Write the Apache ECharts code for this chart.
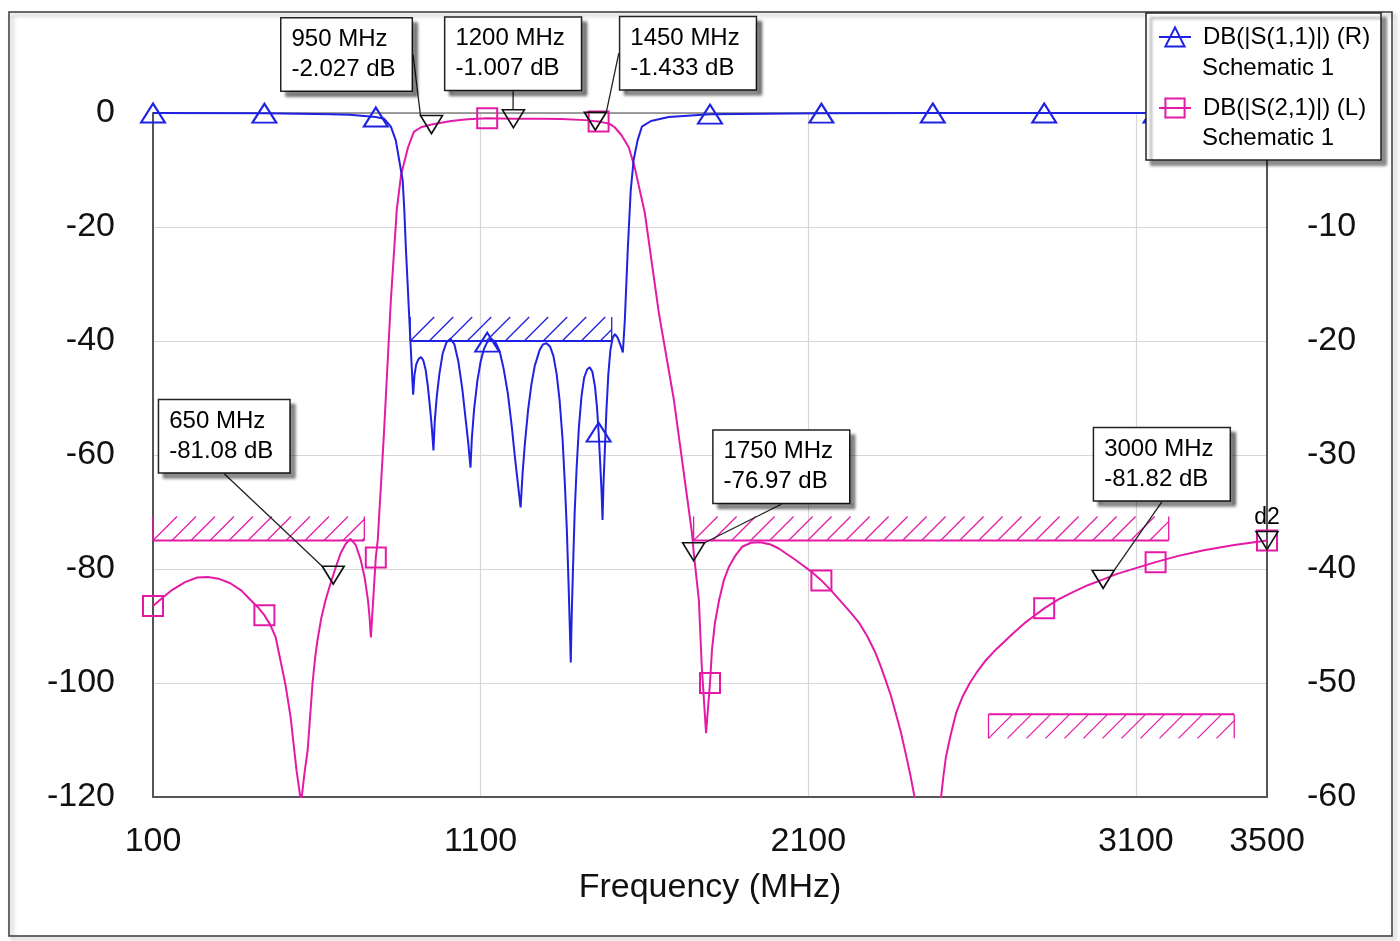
<!DOCTYPE html>
<html><head><meta charset="utf-8">
<script src="https://cdn.jsdelivr.net/npm/echarts@6/dist/echarts.min.js"></script>
<style>html,body{margin:0;padding:0;background:#fff}#c{width:1400px;height:941px}</style>
</head><body><div id="c"></div>
<script>
const FONT = '"Liberation Sans", Arial, Helvetica, sans-serif';
const BLUE = '#1f22e0', PINK = '#e41aa6', INK = '#111';

// ---- data (MHz, dB) ----
const xRange = [100, 3500], xStep = 1000;
const leftRange = [-120, 0], leftStep = 20;
const rightRange = [-60, 0], rightStep = 10;

const s11Name = 'DB(|S(1,1)|) (R)';
const s21Name = 'DB(|S(2,1)|) (L)';
const legendSub = 'Schematic 1';

// S21, left axis
const s21Points = [
  [100,-86.5],[130,-85.0],[160,-83.6],[198,-82.3],[235,-81.5],[268,-81.4],[300,-81.7],[336,-82.5],
  [370,-83.8],[397,-85.4],[420,-86.7],[440,-88.1],[458,-89.8],[474,-91.9],[489,-96.0],[505,-100.5],
  [520,-106],[538,-115.3],[552,-121],[562,-116],[572,-111.8],[580,-105.5],[587,-100],[595,-95.5],
  [602,-92.5],[614,-88.5],[627,-85.4],[642,-82.5],[650,-81.08],[662,-79],[673,-77.2],[688,-75.6],
  [703,-74.7],[719,-75.8],[734,-78.4],[746,-81.5],[756,-85.4],[761,-88.5],[765,-92],[780,-78],
  [786,-74.9],[805,-56.1],[826,-32.8],[844,-17],[857,-10.9],[878,-6.1],[896,-3.3],[918,-2.5],
  [950,-2.027],[1010,-1.4],[1060,-1.1],[1120,-0.9],[1200,-1.007],[1280,-1.0],[1347,-1.05],[1420,-1.25],
  [1450,-1.433],[1460,-1.5],[1469,-1.6],[1494,-1.9],[1509,-2.5],[1530,-3.9],[1552,-6],[1570,-9.5],
  [1601,-17.5],[1644,-35.1],[1690,-50.4],[1745,-73.7],[1750,-76.97],[1766,-85.4],[1775,-97.2],[1788,-108.8],
  [1800,-100],[1806,-94.2],[1815,-89.5],[1828,-85.4],[1842,-82],[1858,-79.6],[1878,-77.6],[1898,-76.1],
  [1925,-75.4],[1953,-75.3],[1985,-75.7],[2010,-76.4],[2030,-77.2],[2056,-78.2],[2082,-79.3],[2110,-80.5],
  [2140,-82],[2170,-83.8],[2204,-86.0],[2230,-87.7],[2256,-89.5],[2280,-91.8],[2305,-94.7],[2320,-96.9],
  [2336,-99.5],[2352,-102.2],[2367,-105.3],[2382,-108.5],[2397,-112.3],[2411,-116],[2425,-120.2],[2445,-128],
  [2465,-140],[2485,-128],[2505,-120.2],[2512,-116.5],[2520,-113],[2535,-109],[2551,-105.3],[2570,-102.5],
  [2593,-100],[2617,-97.9],[2642,-96],[2668,-94.4],[2694,-93],[2727,-91.2],[2760,-89.5],[2790,-88.2],
  [2820,-86.9],[2865,-85.3],[2909,-84],[2955,-82.8],[3000,-81.82],[3040,-80.9],[3080,-80.2],[3120,-79.5],
  [3160,-78.8],[3230,-77.7],[3307,-76.7],[3400,-75.8],[3500,-75.0]
];
// S11, right axis
const s11Points = [
  [100,0],[440,-0.02],[642,-0.1],[700,-0.15],[780,-0.35],[805,-0.5],[826,-1.2],[841,-2.4],[850,-3.9],
  [862,-5.9],[867,-8.5],[872,-12],[877,-14.9],[882,-17.9],[887,-20.8],[894,-24.7],[898,-23.0],[903,-22.1],
  [910,-21.6],[918,-21.4],[925,-21.7],[932,-22.5],[939,-24.0],[946,-26.0],[951,-27.6],[956,-29.6],
  [960,-27.0],[966,-24.9],[974,-22.9],[984,-21.1],[996,-20.1],[1008,-19.8],[1020,-20.3],[1032,-21.8],
  [1044,-24.2],[1054,-26.8],[1062,-28.9],[1069,-31.1],[1073,-28.6],[1080,-26.0],[1090,-23.5],[1100,-21.8],
  [1110,-20.7],[1120,-20.1],[1132,-19.8],[1145,-20.1],[1158,-20.9],[1170,-22.4],[1183,-24.6],[1195,-27.5],
  [1205,-30.3],[1214,-32.6],[1222,-34.6],[1228,-31.6],[1235,-29.0],[1245,-26.0],[1255,-23.8],[1265,-22.2],
  [1280,-20.8],[1290,-20.3],[1301,-20.2],[1312,-20.5],[1322,-21.3],[1332,-22.9],[1341,-25.2],[1350,-28.6],
  [1357,-32.5],[1363,-36.5],[1368,-41],[1372,-45],[1375,-48.2],[1378,-44],[1382,-39.8],[1387,-35],
  [1393,-31.1],[1400,-27.5],[1408,-24.8],[1416,-23.2],[1425,-22.5],[1433,-22.3],[1441,-22.7],[1449,-24.0],
  [1455,-25.8],[1460,-28],[1465,-30.8],[1469,-33.2],[1472,-35.7],[1475,-32.5],[1479,-29.6],[1484,-26],
  [1490,-22.8],[1496,-20.8],[1503,-19.7],[1510,-19.4],[1518,-19.7],[1526,-20.3],[1534,-21.0],[1540,-18.2],
  [1549,-12],[1558,-6.8],[1567,-4.1],[1579,-2.4],[1592,-1.2],[1620,-0.7],[1674,-0.35],[1800,-0.1],
  [2140,-0.02],[2480,0],[2820,0],[3160,0],[3500,0]
];
const s21Marks = [100,440,780,1120,1460,1800,2140,2820,3160,3500];
const s11Marks = [100,440,780,1120,1460,1800,2140,2480,2820,3160,3500];

// marker readouts (S21)
const readouts = [[650,-81.08],[950,-2.027],[1200,-1.007],[1450,-1.433],[1750,-76.97],[3000,-81.82]];
const d2Point = [[3500,-75.0]];

// masks: [fStart, fEnd, level dB, side(1 = hatch above, -1 = hatch below)]
const s21Masks = [[100,745,-75,1],[1750,3200,-75,1],[2650,3400,-105.5,-1]];
const s11Masks = [[885,1500,-20,1]];

// ---- layout/style (pixels) ----
const readoutOffsets = [[-174,-139],[-150,-70],[-68,-65],[25,-68],[20,-85],[-9,-115]];

function withMarks(points, marks) {
  return points.map(p => marks.indexOf(p[0]) >= 0 ? {value: p} : {value: p, symbol: 'none'});
}

function maskRender(params, api) {
  const f0 = api.value(0), f1 = api.value(1), lv = api.value(2), side = api.value(3);
  const a = api.coord([f0, lv]), b = api.coord([f1, lv]);
  const H = 24, STEP = 19;
  const yBase = a[1], yFar = yBase - side * H;
  const yLow = Math.max(yBase, yFar), yHigh = Math.min(yBase, yFar);
  const color = api.visual('color');
  const thin = {stroke: color, lineWidth: 1.3, fill: null};
  const kids = [
    {type: 'line', shape: {x1: a[0], y1: yBase, x2: b[0], y2: yBase}, style: {stroke: color, lineWidth: 2}},
    {type: 'line', shape: {x1: a[0], y1: yBase, x2: a[0], y2: yFar}, style: thin},
    {type: 'line', shape: {x1: b[0], y1: yBase, x2: b[0], y2: yFar}, style: thin}
  ];
  for (let x = a[0]; x < b[0] - 1; x += STEP) {
    let x2 = x + H, y2 = yHigh;
    if (x2 > b[0]) { x2 = b[0]; y2 = yLow - (b[0] - x); }
    kids.push({type: 'line', shape: {x1: x, y1: yLow, x2: x2, y2: y2}, style: thin});
  }
  return {type: 'group', children: kids};
}

const chart = echarts.init(document.getElementById('c'), null, {renderer: 'canvas'});
const axisLabelStyle = {fontFamily: FONT, fontSize: 34, color: INK, formatter: v => String(v)};

chart.setOption({
  animation: false,
  backgroundColor: '#ffffff',
  textStyle: {fontFamily: FONT},
  grid: {left: 153, right: 133, top: 113, bottom: 144, containLabel: false},
  xAxis: [{
    type: 'value', min: xRange[0], max: xRange[1], interval: xStep,
    name: 'Frequency (MHz)', nameLocation: 'middle', nameGap: 74,
    nameTextStyle: {fontFamily: FONT, fontSize: 34, color: INK},
    axisLine: {show: true, onZero: false, lineStyle: {color: '#555', width: 2}},
    axisTick: {show: false},
    axisLabel: Object.assign({margin: 28}, axisLabelStyle),
    splitLine: {show: true, lineStyle: {color: '#d6d6d6', width: 1.2}}
  }, {
    type: 'value', position: 'top', min: xRange[0], max: xRange[1],
    axisLine: {show: true, onZero: false, lineStyle: {color: '#808080', width: 1.5}},
    axisTick: {show: false}, axisLabel: {show: false}, splitLine: {show: false}
  }],
  yAxis: [{
    type: 'value', min: leftRange[0], max: leftRange[1], interval: leftStep, position: 'left',
    axisLine: {show: true, onZero: false, lineStyle: {color: '#555', width: 2}},
    axisTick: {show: false},
    axisLabel: Object.assign({margin: 38}, axisLabelStyle),
    splitLine: {show: true, lineStyle: {color: '#d6d6d6', width: 1.2}}
  }, {
    type: 'value', min: rightRange[0], max: rightRange[1], interval: rightStep, position: 'right',
    axisLine: {show: true, onZero: false, lineStyle: {color: '#555', width: 2}},
    axisTick: {show: false},
    axisLabel: Object.assign({margin: 40}, axisLabelStyle),
    splitLine: {show: false}
  }],
  legend: {
    z: 12, left: 1158, top: 21.5, orient: 'vertical', padding: 0,
    itemWidth: 32, itemHeight: 24, itemGap: 40, selectedMode: false,
    data: [s11Name, s21Name],
    textStyle: {fontFamily: FONT, fontSize: 24, lineHeight: 31, color: '#000', padding: [0, 0, 0, 7]}
  },
  graphic: [
    {type: 'rect', z: 0, silent: true, shape: {x: 9, y: 12, width: 1383, height: 924},
     style: {fill: null, stroke: '#3a3a3a', lineWidth: 1.5, shadowBlur: 4, shadowColor: 'rgba(0,0,0,0.35)', shadowOffsetX: 3, shadowOffsetY: 3}},
    {type: 'rect', z: 11, silent: true, shape: {x: 1146, y: 13, width: 235, height: 147},
     style: {fill: '#fff', stroke: '#222', lineWidth: 1.5, shadowBlur: 3, shadowColor: 'rgba(0,0,0,0.45)', shadowOffsetX: 5, shadowOffsetY: 5}},
    {type: 'text', z: 13, silent: true, x: 1202, y: 68,
     style: {text: legendSub, fontFamily: FONT, fontSize: 24, fill: '#000', verticalAlign: 'middle', align: 'left'}},
    {type: 'text', z: 13, silent: true, x: 1202, y: 138,
     style: {text: legendSub, fontFamily: FONT, fontSize: 24, fill: '#000', verticalAlign: 'middle', align: 'left'}}
  ],
  series: [
    {
      name: 'S21 mask', type: 'custom', coordinateSystem: 'cartesian2d', xAxisIndex: 0, yAxisIndex: 0,
      renderItem: maskRender, data: s21Masks, encode: {x: [0, 1], y: 2},
      itemStyle: {color: PINK}, silent: true, z: 1
    },
    {
      name: 'S11 mask', type: 'custom', coordinateSystem: 'cartesian2d', xAxisIndex: 0, yAxisIndex: 1,
      renderItem: maskRender, data: s11Masks, encode: {x: [0, 1], y: 2},
      itemStyle: {color: BLUE}, silent: true, z: 1
    },
    {
      name: s21Name, type: 'line', xAxisIndex: 0, yAxisIndex: 0,
      data: withMarks(s21Points, s21Marks),
      symbol: 'rect', symbolSize: 20, showSymbol: true, clip: true,
      lineStyle: {color: PINK, width: 2},
      itemStyle: {color: 'rgba(255,255,255,0)', borderColor: PINK, borderWidth: 2},
      z: 3
    },
    {
      name: s11Name, type: 'line', xAxisIndex: 0, yAxisIndex: 1,
      data: withMarks(s11Points, s11Marks),
      symbol: 'triangle', symbolSize: [24, 19], showSymbol: true, clip: true,
      lineStyle: {color: BLUE, width: 2},
      itemStyle: {color: 'rgba(255,255,255,0)', borderColor: BLUE, borderWidth: 2},
      z: 4
    },
    {
      name: 'readouts', type: 'scatter', xAxisIndex: 0, yAxisIndex: 0,
      data: readouts, symbol: 'triangle', symbolRotate: 180, symbolSize: [22, 18],
      itemStyle: {color: 'rgba(255,255,255,0)', borderColor: INK, borderWidth: 1.6, opacity: 1},
      z: 6,
      label: {
        show: true, position: 'inside', align: 'left', verticalAlign: 'middle',
        formatter: p => p.value[0] + ' MHz\n' + p.value[1] + ' dB',
        fontFamily: FONT, fontSize: 24, lineHeight: 30, color: '#000',
        textBorderWidth: 0, textBorderColor: 'transparent',
        backgroundColor: '#fff', borderColor: '#222', borderWidth: 1.5,
        padding: [6, 16, 6, 10],
        shadowColor: 'rgba(0,0,0,0.45)', shadowBlur: 3, shadowOffsetX: 5, shadowOffsetY: 5
      },
      labelLayout: p => ({dx: readoutOffsets[p.dataIndex][0], dy: readoutOffsets[p.dataIndex][1]}),
      labelLine: {show: true, lineStyle: {color: '#222', width: 1.3, opacity: 1}}
    },
    {
      name: 'd2', type: 'scatter', xAxisIndex: 0, yAxisIndex: 0,
      data: d2Point, symbol: 'triangle', symbolRotate: 180, symbolSize: [22, 18],
      itemStyle: {color: 'rgba(255,255,255,0)', borderColor: INK, borderWidth: 1.6, opacity: 1},
      z: 6,
      label: {show: true, position: 'top', distance: 2, formatter: 'd2', fontFamily: FONT, fontSize: 23, color: '#000', textBorderWidth: 0}
    }
  ]
});
</script>
</body></html>
